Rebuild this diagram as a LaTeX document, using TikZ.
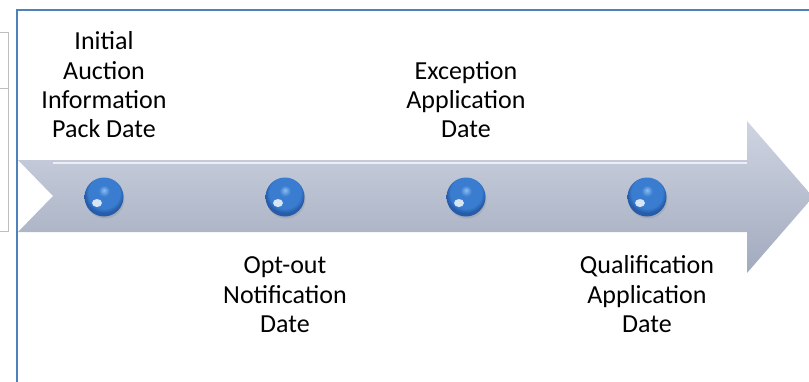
\documentclass[tikz,border=0pt]{standalone}
\usepackage{fontspec}
\setmainfont{Carlito}
\usetikzlibrary{shadows}
\definecolor{framblue}{RGB}{79,129,189}
\definecolor{arrtop}{RGB}{206,212,225}
\definecolor{arrbot}{RGB}{162,170,190}
\definecolor{ballhi}{RGB}{140,190,242}
\definecolor{balblue}{RGB}{58,125,208}
\definecolor{baldark}{RGB}{38,92,170}
\definecolor{boxgray}{RGB}{191,191,191}
\pgfdeclareradialshading{glossy}{\pgfpoint{0bp}{9bp}}{color(0bp)=(ballhi); color(7bp)=(balblue); color(20bp)=(balblue); color(25bp)=(baldark); color(50bp)=(baldark)}
\tikzset{
  ball/.style={circle, minimum size=39pt, inner sep=0pt, shade, shading=glossy,
    drop shadow={opacity=.25, shadow xshift=1pt, shadow yshift=-2pt},
    path picture={\fill[white, opacity=.8] ([xshift=-7pt, yshift=-6pt]path picture bounding box.center) ellipse (5pt and 4pt);}},
  datelab/.style={align=center, inner sep=0pt, font=\fontsize{26}{29.3}\selectfont},
}
\begin{document}
\begin{tikzpicture}[x=1pt,y=-1pt]
\useasboundingbox (0,0) rectangle (809,381);
\clip (0,0) rectangle (809,381);
% box on the left
\draw[boxgray] (-2,32) rectangle (8.5,231);
\draw[boxgray] (-2,88) -- (8.5,88);
% time arrow
\shade[top color=arrtop, bottom color=arrbot] (18,160) -- (747,160) -- (747,121) -- (813,197) -- (747,273) -- (747,232) -- (18,232) -- (53,196) -- cycle;
\draw[white, opacity=.7, line width=1.5pt] (53,163) -- (747,163);
% frame
\draw[framblue, line width=2pt] (17,400) -- (17,9.5) -- (830,9.5);
% dates
\node[ball] (bal0) at (104,197){};
\node[ball] (bal1) at (285,197){};
\node[ball] (bal2) at (466,197){};
\node[ball] (bal3) at (647,197){};
\node[datelab, anchor=south] (lab0) at (104,138){Initial\\Auction\\Information\\Pack Date};
\node[datelab, anchor=north] (lab1) at (285,253){\strut Opt-out\\Notification\\Date};
\node[datelab, anchor=south] (lab2) at (466,138){Exception\\Application\\Date};
\node[datelab, anchor=north] (lab3) at (647,253){\strut Qualification\\Application\\Date};
\end{tikzpicture}
\end{document}
